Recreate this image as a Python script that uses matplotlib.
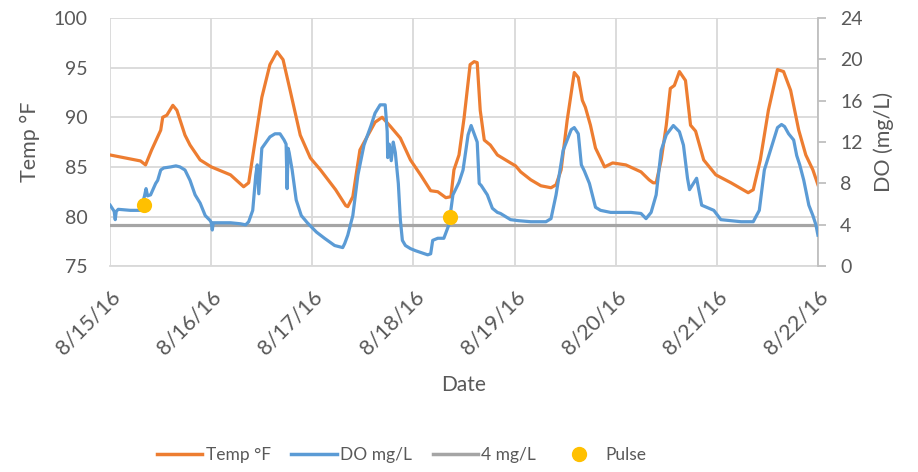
import matplotlib
matplotlib.use("Agg")
import matplotlib.pyplot as plt
from matplotlib.lines import Line2D

plt.rcParams['font.family'] = ['Lato', 'DejaVu Sans']

# x positions in days since 8/15/16
temp_days = [0.00, 0.30, 0.35, 0.41, 0.50, 0.52, 0.56, 0.62, 0.66, 0.74, 0.79, 0.89, 1.00, 1.19, 1.32, 1.37,
             1.45, 1.50, 1.58, 1.65, 1.71, 1.78, 1.88, 1.98, 2.08, 2.23, 2.33, 2.35, 2.40, 2.47, 2.55, 2.62,
             2.69, 2.77, 2.87, 2.97, 3.07, 3.17, 3.24, 3.32, 3.37, 3.40, 3.45, 3.50, 3.56, 3.60, 3.63, 3.66,
             3.70, 3.76, 3.83, 3.96, 4.01, 4.06, 4.16, 4.26, 4.36, 4.41, 4.46, 4.52, 4.59, 4.63, 4.67, 4.70,
             4.75, 4.80, 4.89, 4.97, 5.10, 5.25, 5.33, 5.37, 5.40, 5.45, 5.50, 5.54, 5.58, 5.63, 5.69, 5.74,
             5.79, 5.87, 5.99, 6.14, 6.31, 6.36, 6.43, 6.51, 6.60, 6.66, 6.73, 6.81, 6.88, 6.95, 7.00]
temp_vals = [86.2, 85.6, 85.2, 86.7, 88.7, 90.0, 90.2, 91.2, 90.7, 88.2, 87.2, 85.7, 85.0, 84.2, 83.0, 83.4,
             88.7, 92.0, 95.3, 96.6, 95.8, 92.7, 88.2, 85.9, 84.7, 82.7, 81.1, 81.0, 82.0, 86.7, 88.2, 89.5,
             90.0, 89.1, 87.9, 85.7, 84.2, 82.6, 82.5, 81.9, 82.0, 84.7, 86.2, 89.9, 95.3, 95.6, 95.5, 90.7,
             87.7, 87.2, 86.2, 85.4, 85.1, 84.5, 83.7, 83.1, 82.9, 83.2, 84.7, 89.7, 94.5, 94.0, 91.7, 91.0,
             89.2, 86.9, 85.0, 85.4, 85.2, 84.5, 83.7, 83.4, 83.4, 85.7, 89.2, 92.9, 93.2, 94.6, 93.7, 89.2,
             88.6, 85.7, 84.2, 83.4, 82.4, 82.7, 85.7, 90.7, 94.8, 94.6, 92.7, 88.7, 86.2, 84.7, 83.2]

do_days = [0.00, 0.04, 0.05, 0.06, 0.08, 0.20, 0.30, 0.34, 0.355, 0.37, 0.40, 0.45, 0.47, 0.50, 0.53, 0.60,
           0.65, 0.69, 0.74, 0.79, 0.84, 0.89, 0.94, 0.99, 1.00, 1.01, 1.02, 1.19, 1.29, 1.34, 1.37, 1.41,
           1.44, 1.455, 1.47, 1.50, 1.58, 1.63, 1.68, 1.72, 1.74, 1.75, 1.76, 1.77, 1.80, 1.84, 1.89, 1.95,
           2.04, 2.12, 2.22, 2.30, 2.32, 2.35, 2.40, 2.45, 2.51, 2.58, 2.62, 2.67, 2.72, 2.74, 2.745, 2.76,
           2.78, 2.80, 2.82, 2.85, 2.87, 2.89, 2.92, 2.97, 3.02, 3.08, 3.14, 3.17, 3.19, 3.24, 3.30, 3.35,
           3.39, 3.45, 3.49, 3.54, 3.57, 3.60, 3.63, 3.65, 3.67, 3.73, 3.78, 3.83, 3.86, 3.96, 4.04, 4.16,
           4.31, 4.36, 4.41, 4.48, 4.56, 4.59, 4.63, 4.66, 4.69, 4.74, 4.80, 4.85, 4.95, 5.15, 5.25, 5.30,
           5.35, 5.40, 5.45, 5.50, 5.57, 5.63, 5.67, 5.71, 5.73, 5.80, 5.85, 5.97, 6.04, 6.24, 6.32, 6.36,
           6.42, 6.47, 6.53, 6.60, 6.64, 6.67, 6.71, 6.76, 6.79, 6.82, 6.86, 6.91, 6.95, 6.98, 7.00]
do_vals = [5.9, 5.3, 4.5, 5.3, 5.5, 5.4, 5.4, 6.8, 7.5, 6.8, 6.9, 8.0, 8.3, 9.3, 9.5, 9.6,
           9.7, 9.6, 9.3, 8.3, 6.9, 6.1, 4.9, 4.4, 4.2, 3.5, 4.2, 4.2, 4.1, 4.0, 4.3, 5.4,
           8.8, 9.8, 7.0, 11.4, 12.5, 12.8, 12.8, 12.2, 11.8, 7.5, 11.4, 11.0, 9.3, 6.4, 4.9, 4.2,
           3.3, 2.7, 2.0, 1.8, 2.2, 3.0, 4.9, 8.8, 11.7, 13.6, 14.8, 15.6, 15.6, 13.0, 10.5, 11.8,
           10.2, 12.0, 11.0, 8.0, 4.5, 2.5, 2.0, 1.7, 1.5, 1.3, 1.1, 1.2, 2.5, 2.7, 2.7, 4.0,
           6.9, 8.1, 9.3, 12.7, 13.6, 12.8, 12.0, 8.0, 7.8, 6.9, 5.6, 5.2, 5.1, 4.5, 4.4, 4.3,
           4.3, 4.6, 6.9, 11.2, 13.2, 13.4, 12.8, 9.8, 9.2, 8.0, 5.7, 5.4, 5.2, 5.2, 5.1, 4.6,
           5.2, 6.9, 11.2, 12.7, 13.6, 13.0, 11.7, 8.5, 7.4, 8.5, 5.9, 5.4, 4.5, 4.3, 4.3, 4.3,
           5.4, 9.3, 11.2, 13.4, 13.7, 13.5, 12.8, 12.2, 10.7, 9.8, 8.3, 5.9, 4.9, 4.0, 3.0]

threshold = 4  # mg/L
pulse_days = [0.337, 3.36]
pulse_do = [5.9, 4.8]

tick_labels = ['8/15/16', '8/16/16', '8/17/16', '8/18/16', '8/19/16', '8/20/16', '8/21/16', '8/22/16']

orange = '#ED7D31'
blue = '#5B9BD5'
gray = '#A5A5A5'
yellow = '#FFC000'
txt = '#595959'
grid = '#D9D9D9'

fig = plt.figure(figsize=(9.18, 4.72), dpi=100)
ax = fig.add_axes([0.12, 0.436, 0.771, 0.526])
ax2 = ax.twinx()

ax.plot(temp_days, temp_vals, color=orange, lw=2.3, solid_joinstyle='round', zorder=3)
ax2.plot(do_days, do_vals, color=blue, lw=2.3, solid_joinstyle='round', zorder=3)
ax2.plot([0, len(tick_labels) - 1], [threshold, threshold], color=gray, lw=2.3, zorder=2)
ax2.scatter(pulse_days, pulse_do, s=120, color=yellow, zorder=5, linewidths=0)

ax.set_xlim(0, len(tick_labels) - 1)
ax.set_ylim(75, 100)
ax2.set_ylim(0, 24)
ax.set_xticks(range(len(tick_labels)))
ax.set_xticklabels(tick_labels, rotation=45, ha='right', rotation_mode='anchor')
ax.set_yticks([75, 80, 85, 90, 95, 100])
ax2.set_yticks([0, 4, 8, 12, 16, 20, 24])

ax.grid(True, color=grid, lw=1.3)
ax.set_axisbelow(True)
for a in (ax, ax2):
    for s in a.spines.values():
        s.set_visible(False)
ax2.spines['right'].set_visible(True)
ax2.spines['right'].set_color('#BFBFBF')
ax2.spines['right'].set_linewidth(1.3)
ax.spines['bottom'].set_visible(True)
ax.spines['bottom'].set_color('#D9D9D9')
ax.spines['bottom'].set_linewidth(1.3)

ax.tick_params(axis='y', colors=txt, labelsize=14, length=0, pad=16)
ax.tick_params(axis='x', colors=txt, labelsize=15.5, length=0, pad=15)
ax2.tick_params(axis='y', colors=txt, labelsize=14, length=6, width=1.3, pad=10, direction='out')
ax2.tick_params(axis='y', color='#BFBFBF')
for lab in ax2.get_yticklabels():
    lab.set_color(txt)

ax.set_ylabel('Temp °F', color=txt, fontsize=15.5, labelpad=10)
ax2.set_ylabel('DO (mg/L)', color=txt, fontsize=15.5, labelpad=8)
ax.set_xlabel('Date', color=txt, fontsize=15, labelpad=12)

handles = [Line2D([], [], color=orange, lw=2.5),
           Line2D([], [], color=blue, lw=2.5),
           Line2D([], [], color=gray, lw=2.5),
           Line2D([], [], color=yellow, marker='o', ls='none', markersize=10)]
fig.legend(handles, ['Temp °F', 'DO mg/L', '4 mg/L', 'Pulse'], loc='center left',
           bbox_to_anchor=(150 / 918, 1 - 455 / 472), borderaxespad=0, ncol=4, frameon=False,
           fontsize=12.5, labelcolor=txt, handlelength=2.6, columnspacing=1.2, handletextpad=0.2)

fig.savefig('out.png', dpi=100)
